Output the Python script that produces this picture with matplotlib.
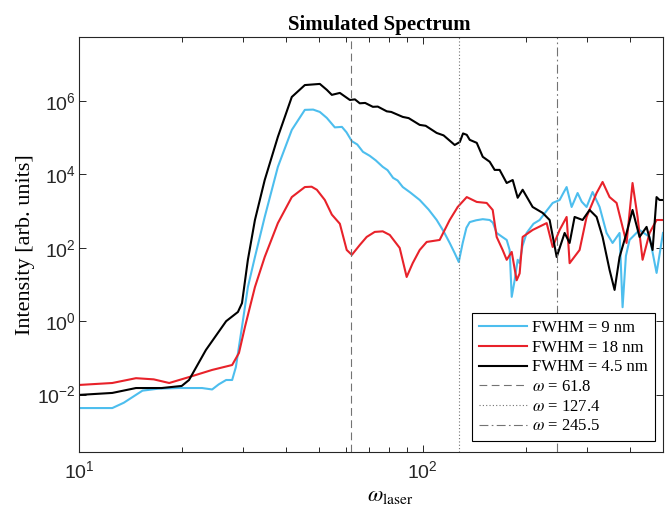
"""Simulated spectrum for three laser pulse widths (log-log), with marker lines at three omegas."""
import matplotlib

matplotlib.use("Agg")
import matplotlib.pyplot as plt  # noqa: E402
from matplotlib.ticker import FixedLocator, LogFormatterSciNotation, NullFormatter, NullLocator  # noqa: E402

# FWHM = 9 nm
omega_9nm = [10, 12.5, 13.5, 15.3, 17.0, 19.5, 22.8, 24.4, 25.5, 26.8, 27.9, 28.6, 29.8, 31.0, 32.5,
             34.7, 37.9, 41.6, 45.4, 48.0, 50.2, 52.6, 55.5, 58.2, 60.0, 62.2, 64.5, 67.0, 70.1, 73.0,
             76.5, 79.0, 82.0, 84.5, 87.5, 92.0, 98.0, 104, 109.8, 115, 119.8, 124, 127.3, 130.7, 134,
             137, 143, 149.5, 156.6, 160, 164.1, 170, 175.5, 179, 181.5, 185.1, 188.9, 191.4, 195, 200.6,
             210, 218.8, 229, 238.8, 250.2, 256, 262.2, 271.1, 282.2, 290, 299.7, 312, 327, 342.6, 356.7,
             373.8, 381.4, 390, 399.6, 427, 457, 479, 500]
inten_9nm = [0.0043, 0.0043, 0.006, 0.0128, 0.0145, 0.0151, 0.0151, 0.0138, 0.019, 0.025, 0.025, 0.056,
             0.70, 8.5, 56, 690, 1.6e4, 1.62e5, 5.7e5, 5.8e5, 5.0e5, 3.44e5, 1.9e5, 1.96e5, 1.4e5, 8.0e4,
             6.5e4, 4.1e4, 3.2e4, 2.4e4, 1.6e4, 1.3e4, 8.0e3, 6.8e3, 4.5e3, 3.2e3, 2.0e3, 1.1e3, 570, 280,
             135, 70, 41, 135, 350, 500, 560, 600, 570, 480, 253, 200, 163, 87, 4.6, 13, 47, 38, 110, 253,
             450, 570, 1.0e3, 1.66e3, 2.0e3, 3.0e3, 4.5e3, 1.29e3, 3.1e3, 1.8e3, 1.29e3, 3.3e3, 1.29e3,
             253, 135, 253, 2.4, 60, 163, 305, 197, 20.6, 253]

# FWHM = 18 nm
omega_18nm = [10, 12.5, 14.65, 16.5, 18.3, 20.9, 24.4, 27.9, 29.2, 30.4, 32.5, 34.7, 37.9, 41.6, 45.4,
              47.5, 49.2, 51.9, 54.4, 57.4, 60.1, 62.2, 65.6, 68.7, 72.5, 76.5, 80.2, 85.7, 89.8, 93.5,
              98.0, 102.7, 112, 119.8, 126.4, 134.3, 143.6, 153.5, 159.8, 164.1, 170.8, 175.5, 181.5,
              187.6, 191.4, 195.3, 208.8, 229.4, 238.8, 250.2, 262.2, 267.5, 286.0, 299.7, 320.5, 333.6,
              349.6, 366.4, 391.7, 407.7, 421.7, 436.1, 457, 479, 500]
inten_18nm = [0.0183, 0.0207, 0.028, 0.026, 0.0207, 0.030, 0.047, 0.064, 0.136, 0.70, 8.5, 56, 470,
              2.4e3, 4.5e3, 4.6e3, 3.8e3, 2.0e3, 800, 450, 87, 64, 119, 197, 270, 280, 223, 99, 16, 38,
              87, 144, 163, 570, 1.29e3, 2.4e3, 1.77e3, 1.66e3, 1.07e3, 197, 87, 47, 77, 13, 20, 197, 305,
              470, 105, 305, 690, 38, 87, 690, 3.1e3, 6.2e3, 2.4e3, 1.66e3, 135, 5.8e3, 690, 47, 253, 570,
              570]

# FWHM = 4.5 nm
omega_4p5nm = [10, 12.5, 14.65, 17.4, 19.9, 20.9, 23.4, 26.8, 29.0, 29.8, 31.0, 32.5, 34.7, 37.9, 41.6,
               45.4, 50.2, 52.6, 54.4, 57.4, 61.4, 63.5, 65.6, 68, 71.6, 74, 78.6, 81, 87.5, 91, 98, 102,
               109.8, 115, 123.9, 128.2, 131, 134.3, 137, 143.6, 149.5, 156.6, 161.9, 167.4, 175.5, 182.7,
               188.9, 195.3, 208.8, 223.3, 234, 245.3, 258.7, 267.5, 276.6, 291.8, 305.8, 320.5, 333.6,
               349.6, 361.5, 373.8, 391.7, 407.7, 427.3, 447.9, 466.3, 478.9, 488.6, 500]
inten_4p5nm = [0.0098, 0.0111, 0.0151, 0.0151, 0.0172, 0.025, 0.164, 1.0, 1.78, 3.1, 47, 570, 7.0e3,
               1.05e5, 1.28e6, 2.7e6, 2.9e6, 2.0e6, 1.46e6, 1.65e6, 1.06e6, 1.1e6, 8.6e5, 8.8e5, 6.9e5,
               7.0e5, 5.2e5, 5.0e5, 3.66e5, 3.4e5, 2.22e5, 2.1e5, 1.34e5, 1.15e5, 6.3e4, 7.6e4, 1.3e5,
               1.19e5, 8.7e4, 7.2e4, 3.0e4, 2.2e4, 1.32e4, 1.32e4, 5.8e3, 7.0e3, 2.3e3, 3.8e3, 1.29e3, 890,
               570, 56, 253, 135, 690, 570, 1.07e3, 690, 197, 24.8, 7.1, 56, 253, 1.07e3, 197, 370, 87,
               2.4e3, 2.0e3, 2.0e3]

marker_omegas = [61.8, 127.4, 245.5]
marker_styles = [(0, (7, 4)), (0, (1, 2)), (0, (8, 3, 1.5, 3))]

SERIF = "Liberation Serif"
plt.rcParams["font.family"] = "Liberation Sans"
plt.rcParams["mathtext.fontset"] = "stix"


def main() -> None:
    fig = plt.figure(figsize=(6.67, 5.14), dpi=100)
    ax = fig.add_axes([0.1184, 0.1206, 0.8756, 0.8074])

    ax.plot(omega_9nm, inten_9nm, color="#4dbeee", lw=1.5, label="FWHM = 9 nm")
    ax.plot(omega_18nm, inten_18nm, color="#e8222a", lw=1.5, label="FWHM = 18 nm")
    ax.plot(omega_4p5nm, inten_4p5nm, color="black", lw=1.5, label="FWHM = 4.5 nm")
    for w, ls in zip(marker_omegas, marker_styles):
        ax.axvline(w, color="0.45", lw=0.8, ls=ls, label=rf"$\omega$ = {w}")

    ax.set_xscale("log")
    ax.set_yscale("log")
    ax.set_xlim(10, 500)
    ax.set_ylim(2.73e-4, 5.5e7)

    ax.yaxis.set_major_locator(FixedLocator([1e-2, 1e0, 1e2, 1e4, 1e6]))
    ax.yaxis.set_minor_locator(NullLocator())
    ax.xaxis.set_major_locator(FixedLocator([10, 100]))
    ax.xaxis.set_minor_locator(FixedLocator([20, 30, 40, 50, 60, 70, 80, 90, 200, 300, 400]))
    ax.xaxis.set_major_formatter(LogFormatterSciNotation())
    ax.xaxis.set_minor_formatter(NullFormatter())

    ax.tick_params(which="both", direction="in", top=True, right=True, color="0.15",
                   labelcolor="0.15", labelsize=14, width=0.7)
    ax.tick_params(which="major", length=5)
    ax.tick_params(which="minor", length=3.5)
    ax.tick_params(axis="y", pad=2)
    ax.tick_params(axis="x", pad=6)
    for s in ax.spines.values():
        s.set_color("0.15")
        s.set_linewidth(0.8)

    ax.set_title("Simulated Spectrum", family=SERIF, fontsize=15, fontweight="bold", x=0.514, pad=5)
    ax.set_ylabel("Intensity [arb. units]", family=SERIF, fontsize=16, labelpad=2)
    ax.set_xlabel(r"$\omega_{\rm laser}$", family=SERIF, fontsize=16, labelpad=2)
    ax.xaxis.set_label_coords(0.533, -0.085)

    leg = ax.legend(loc="lower right", bbox_to_anchor=(0.986, 0.0265), prop={"family": SERIF, "size": 12},
                    fancybox=False, framealpha=1, edgecolor="black", handlelength=2.9,
                    handletextpad=0.3, labelspacing=0.22, borderpad=0.4, borderaxespad=0)
    leg.get_frame().set_linewidth(0.8)

    fig.savefig("out.png", dpi=100)


if __name__ == "__main__":
    main()
